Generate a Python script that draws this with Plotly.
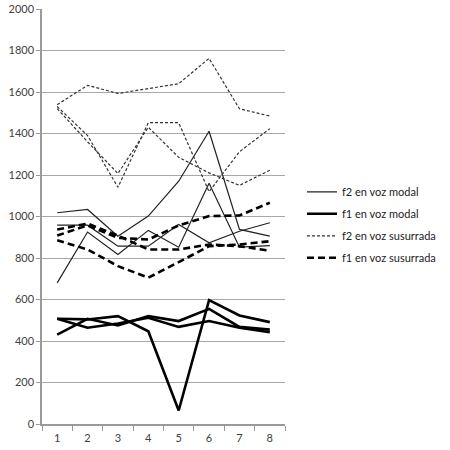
import plotly.graph_objects as go

x = [1, 2, 3, 4, 5, 6, 7, 8]

f2_modal = [
    [1018, 1034, 905, 1002, 1170, 1411, 938, 905],
    [958, 958, 857, 857, 962, 873, 929, 970],
    [680, 925, 817, 933, 852, 1160, 852, 860],
]
f1_modal = [
    [507, 504, 520, 447, 65, 597, 523, 491],
    [431, 507, 475, 520, 496, 555, 468, 455],
    [507, 464, 484, 512, 468, 496, 464, 442],
]
f2_sus = [
    [1539, 1632, 1593, 1617, 1640, 1762, 1519, 1484],
    [1530, 1390, 1141, 1452, 1452, 1120, 1312, 1423],
    [1520, 1360, 1207, 1430, 1285, 1210, 1150, 1223],
]
f1_sus = [
    [886, 841, 761, 705, 780, 857, 865, 881],
    [937, 966, 908, 841, 841, 865, 857, 835],
    [908, 957, 897, 889, 957, 1002, 1005, 1066],
]

groups = [
    ("f2 en voz modal", f2_modal, dict(color="#222222", width=1.2, dash="solid")),
    ("f1 en voz modal", f1_modal, dict(color="#000000", width=2.6, dash="solid")),
    ("f2 en voz susurrada", f2_sus, dict(color="#333333", width=1.2, dash="3px,2px")),
    ("f1 en voz susurrada", f1_sus, dict(color="#000000", width=2.6, dash="7px,4px")),
]

fig = go.Figure()
for name, series, style in groups:
    for i, ys in enumerate(series):
        fig.add_trace(go.Scatter(
            x=x, y=ys, mode="lines", name=name, legendgroup=name,
            showlegend=(i == 0), line=style,
        ))

fig.update_layout(
    width=450, height=450,
    margin=dict(l=42, r=162, t=9, b=26),
    paper_bgcolor="white", plot_bgcolor="white",
    font=dict(family="Lato, Open Sans, sans-serif", size=11, color="#404040"),
    showlegend=True,
    legend=dict(
        x=1.07, y=0.48, xanchor="left", yanchor="middle",
        traceorder="grouped", tracegroupgap=3,
        font=dict(size=11, color="#222222"),
        itemwidth=30, bgcolor="rgba(0,0,0,0)",
    ),
    xaxis=dict(
        range=[0.5, 8.5], tickvals=x, ticktext=[str(v) for v in x],
        automargin=False, ticklabelstandoff=3,
        showgrid=False, zeroline=False, showline=True, linecolor="#9a9a9a", linewidth=1.5,
        ticks="", ticklen=0,
        minor=dict(tick0=0.5, dtick=1, ticks="outside", ticklen=5, tickcolor="#9a9a9a", showgrid=False),
        tickfont=dict(size=11, color="#404040"),
    ),
    yaxis=dict(
        range=[0, 2000], dtick=200, showgrid=True, gridcolor="#a8a8a8", gridwidth=1,
        automargin=False,
        zeroline=False, showline=True, linecolor="#9a9a9a", linewidth=1.5,
        ticks="outside", ticklen=4, tickcolor="#9a9a9a",
        tickfont=dict(size=11, color="#404040"),
    ),
)

fig.write_html("out.html")
